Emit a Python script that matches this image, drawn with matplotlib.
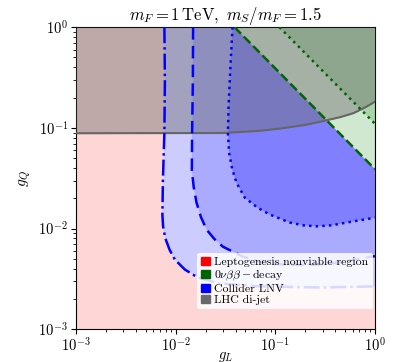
import matplotlib
matplotlib.use("Agg")
import matplotlib.pyplot as plt
from matplotlib.patches import Patch

plt.rcParams['font.family'] = 'serif'
plt.rcParams['font.serif'] = ['cmr10', 'DejaVu Serif']
plt.rcParams['mathtext.fontset'] = 'cm'
plt.rcParams['axes.formatter.use_mathtext'] = True

# collider LNV contours (dash-dot, dashed, dotted)
gL_dd = [0.00773, 0.00782, 0.00773, 0.00747, 0.00738, 0.00750, 0.00790, 0.00870, 0.00984, 0.0124, 0.0167, 0.0278, 0.0702, 0.280, 1.0]
gQ_dd = [1.0, 0.299, 0.0892, 0.0306, 0.0138, 0.0105, 0.00800, 0.00620, 0.00493, 0.00393, 0.00327, 0.00285, 0.00267, 0.00261, 0.00267]

gL_da = [0.0150, 0.01492, 0.01467, 0.01457, 0.01520, 0.01624, 0.0180, 0.0205, 0.0245, 0.0298, 0.0473, 0.0702, 0.119, 0.222, 0.445, 1.0]
gQ_da = [1.0, 0.299, 0.0892, 0.0384, 0.0260, 0.0181, 0.0130, 0.00977, 0.00790, 0.00663, 0.00528, 0.00471, 0.00440, 0.00435, 0.00461, 0.00534]

gL_do = [0.0373, 0.0355, 0.0340, 0.0335, 0.0345, 0.0370, 0.0409, 0.0495, 0.0668, 0.0883, 0.140, 0.190, 0.259, 0.370, 0.519, 1.0]
gQ_do = [1.0, 0.400, 0.160, 0.0892, 0.0565, 0.0390, 0.0285, 0.0203, 0.0161, 0.0138, 0.0115, 0.0108, 0.01054, 0.0108, 0.0115, 0.01285]

# 0nubb lines (straight in log-log)
gL_bb1 = [0.039, 1.0]
gQ_bb1 = [1.0, 0.039]
gL_bb2 = [0.11, 1.0]
gQ_bb2 = [1.0, 0.11]

# LHC di-jet bound
gL_lhc = [0.001, 0.03, 0.07, 0.112, 0.2, 0.303, 0.45, 0.608, 0.8, 1.0]
gQ_lhc = [0.0885, 0.089, 0.0935, 0.0985, 0.107, 0.117, 0.128, 0.140, 0.160, 0.182]

fig = plt.figure(figsize=(3.93, 3.62), dpi=100)
ax = fig.add_axes([0.193, 0.09, 0.761, 0.835])
ax.set_xscale('log')
ax.set_yscale('log')
ax.set_xlim(1e-3, 1)
ax.set_ylim(1e-3, 1)

# leptogenesis nonviable region (everything)
ax.fill([1e-3, 1, 1, 1e-3], [1e-3, 1e-3, 1, 1], color='#ffd6d6', lw=0, zorder=0)

# collider regions
ax.fill(gL_dd + [1.0], gQ_dd + [1.0], color='#ccccff', lw=0, zorder=1)
ax.fill(gL_da + [1.0], gQ_da + [1.0], color='#aaaaff', lw=0, zorder=1)
ax.fill(gL_do + [1.0], gQ_do + [1.0], color='#8080ff', lw=0, zorder=1)

# 0nubb regions
ax.fill(gL_bb1 + [1.0], gQ_bb1 + [1.0], color='#cfe8cf', lw=0, zorder=2)
ax.fill(gL_bb2 + [1.0], gQ_bb2 + [1.0], color='#a8d4a8', lw=0, zorder=2)

# LHC di-jet
ax.fill_between(gL_lhc, gQ_lhc, 1, color='#707070', alpha=0.45, lw=0, zorder=3)
ax.plot(gL_lhc, gQ_lhc, color='#666666', lw=1.5, zorder=4)

ax.plot(gL_dd, gQ_dd, color='blue', lw=1.8, ls='-.', zorder=5)
ax.plot(gL_da, gQ_da, color='blue', lw=1.8, ls=(0, (5, 2.5)), zorder=5)
ax.plot(gL_do, gQ_do, color='blue', lw=1.8, ls=':', zorder=5)
ax.plot(gL_bb1, gQ_bb1, color='darkgreen', lw=1.8, ls='--', zorder=5)
ax.plot(gL_bb2, gQ_bb2, color='darkgreen', lw=1.8, ls=':', zorder=5)

ax.set_title(r'$m_F = 1\,\mathrm{TeV},\ m_S/m_F = 1.5$', fontsize=12, pad=5)
ax.set_xlabel(r'$g_L$', fontsize=10.5, labelpad=-4)
ax.set_ylabel(r'$g_Q$', fontsize=11)
ax.tick_params(labelsize=10.5, pad=2)

handles = [Patch(color='red'), Patch(color='darkgreen'), Patch(color='blue'), Patch(color='dimgray')]
labels = ['Leptogenesis nonviable region', r'$0\nu\beta\beta-$decay', 'Collider LNV', 'LHC di-jet']
leg = ax.legend(handles, labels, loc='lower right', bbox_to_anchor=(1.0, 0.06), fontsize=8.5,
                handlelength=0.7, handleheight=0.7, handletextpad=0.4, labelspacing=0.05,
                borderpad=0.35, borderaxespad=0.2, framealpha=0.85, edgecolor='none')
leg.set_zorder(10)

fig.savefig('out.png', dpi=100)
